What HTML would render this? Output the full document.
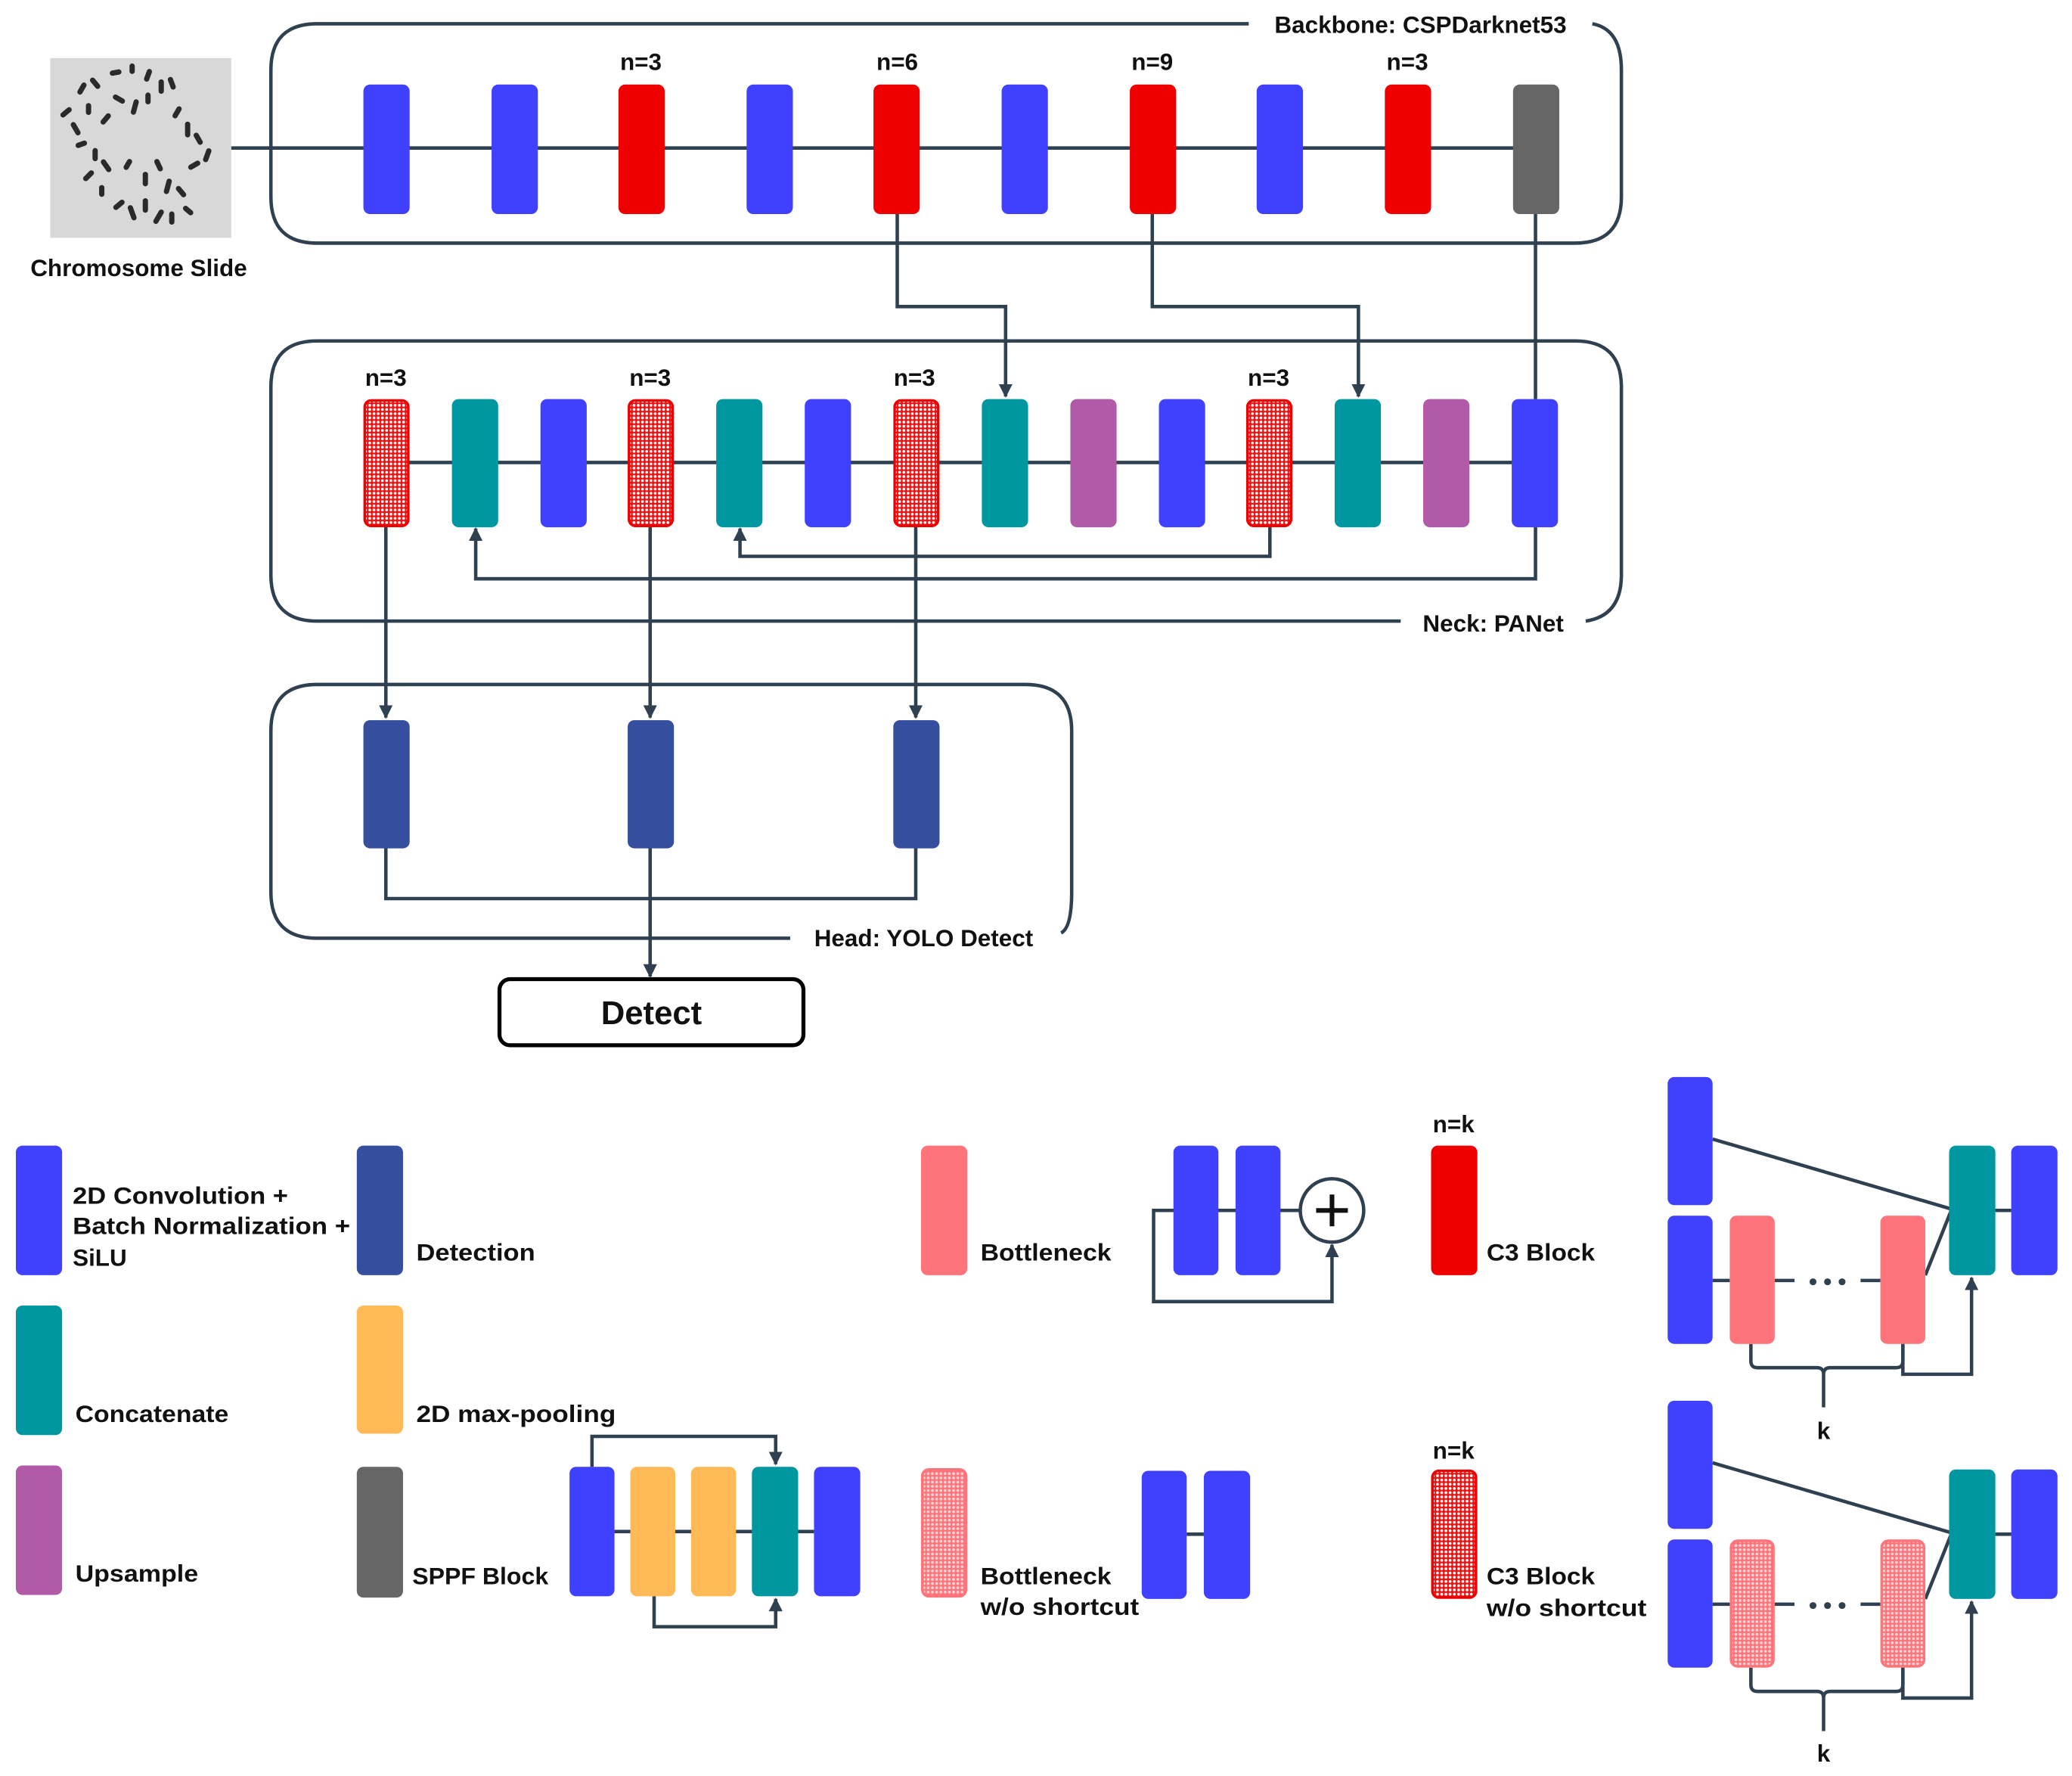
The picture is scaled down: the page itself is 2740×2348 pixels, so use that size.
<!DOCTYPE html>
<html><head><meta charset="utf-8"><style>
html,body{margin:0;padding:0;background:#fff;}
svg{display:block;}
text{font-family:"Liberation Sans",sans-serif;font-weight:bold;fill:#111;}
</style></head><body>
<svg width="2740" height="2348" viewBox="0 0 1568 1344" preserveAspectRatio="none" xmlns="http://www.w3.org/2000/svg">
<defs>
<pattern id="dots" width="3.2" height="3.2" patternUnits="userSpaceOnUse">
<rect width="3.2" height="3.2" fill="#ee1111"/>
<circle cx="1.6" cy="1.6" r="1.05" fill="#fff"/>
</pattern>
<pattern id="sdots" width="3.2" height="3.2" patternUnits="userSpaceOnUse">
<rect width="3.2" height="3.2" fill="#ff737a"/>
<circle cx="1.6" cy="1.6" r="1.05" fill="#ffd6d8"/>
</pattern>
<marker id="ar" viewBox="0 0 10 10" refX="9" refY="5" markerWidth="4" markerHeight="4" orient="auto-start-reverse">
<path d="M0,0 L10,5 L0,10 z" fill="#2f4050"/>
</marker>
<symbol id="hred" viewBox="0 0 35 98" preserveAspectRatio="none">
<rect x="1" y="1" width="33" height="96" rx="5" fill="url(#dots)" stroke="#ee0000" stroke-width="2"/>
</symbol>
</defs>
<g stroke="#2f4050" stroke-width="2.6" fill="none">
<path d="M945,18 H240 Q205,18 205,53 V149 Q205,184 240,184 H1192 Q1227,184 1227,149 V53 Q1227,22 1205,18"/>
<line x1="175" y1="112" x2="1162" y2="112"/>
<path d="M1060,470 H240 Q205,470 205,435 V293 Q205,258 240,258 H1192 Q1227,258 1227,293 V435 Q1227,466 1200,470"/>
<line x1="292" y1="350" x2="1162" y2="350"/>
<path d="M598,710 H240 Q205,710 205,675 V553 Q205,518 240,518 H776 Q811,518 811,553 V675 Q811,702 803,706"/>
<path d="M679,162 V232 H761 V300" marker-end="url(#ar)"/>
<path d="M872,162 V232 H1028 V300" marker-end="url(#ar)"/>
<path d="M1162,162 V302"/>
<path d="M1162,398 V438 H360 V400" marker-end="url(#ar)"/>
<path d="M961,398 V421 H560 V400" marker-end="url(#ar)"/>
<path d="M292,398 V543" marker-end="url(#ar)"/>
<path d="M492,398 V543" marker-end="url(#ar)"/>
<path d="M693,398 V543" marker-end="url(#ar)"/>
<path d="M292,641 V680 H693 V641"/>
<path d="M492,641 V739" marker-end="url(#ar)"/>
<line x1="465" y1="1159" x2="616" y2="1159"/>
<path d="M448,1110 V1087 H587 V1108" marker-end="url(#ar)"/>
<path d="M495,1208 V1231 H587 V1210" marker-end="url(#ar)"/>
<line x1="873" y1="916" x2="984" y2="916"/>
<path d="M888,916 H873 V985 H1008 V942" marker-end="url(#ar)"/>
<line x1="898" y1="1161" x2="911" y2="1161"/>
</g>
<rect x="38" y="44" width="137" height="136" fill="#d8d8d8"/>
<g fill="#2a2a2a">
<rect x="60" y="62" width="4" height="10" rx="2" transform="rotate(30 62 67)"/><rect x="70" y="58" width="4" height="10" rx="2" transform="rotate(-40 72 63)"/><rect x="85" y="50" width="4" height="9" rx="2" transform="rotate(80 87 55)"/><rect x="98" y="48" width="4" height="8" rx="2"/><rect x="110" y="52" width="4" height="10" rx="2" transform="rotate(20 112 57)"/><rect x="120" y="60" width="4" height="11" rx="2"/><rect x="128" y="58" width="4" height="10" rx="2" transform="rotate(-20 130 63)"/>
<rect x="48" y="80" width="4" height="10" rx="2" transform="rotate(50 50 85)"/><rect x="55" y="92" width="4" height="11" rx="2" transform="rotate(-30 57 97)"/><rect x="65" y="78" width="4" height="9" rx="2"/><rect x="78" y="85" width="4" height="10" rx="2" transform="rotate(40 80 90)"/><rect x="88" y="70" width="4" height="10" rx="2" transform="rotate(-60 90 75)"/><rect x="100" y="75" width="4" height="12" rx="2" transform="rotate(15 102 81)"/><rect x="110" y="70" width="4" height="9" rx="2"/>
<rect x="132" y="80" width="4" height="10" rx="2" transform="rotate(30 134 85)"/><rect x="140" y="92" width="4" height="12" rx="2"/><rect x="148" y="100" width="4" height="10" rx="2" transform="rotate(-30 150 105)"/><rect x="155" y="112" width="4" height="11" rx="2" transform="rotate(20 157 117)"/><rect x="145" y="120" width="4" height="10" rx="2" transform="rotate(60 147 125)"/>
<rect x="60" y="105" width="4" height="9" rx="2" transform="rotate(70 62 109)"/><rect x="70" y="112" width="4" height="10" rx="2"/><rect x="78" y="120" width="4" height="11" rx="2" transform="rotate(-35 80 125)"/><rect x="65" y="128" width="4" height="10" rx="2" transform="rotate(45 67 133)"/><rect x="75" y="140" width="4" height="9" rx="2"/>
<rect x="95" y="120" width="4" height="9" rx="2" transform="rotate(30 97 124)"/><rect x="108" y="130" width="4" height="11" rx="2"/><rect x="118" y="120" width="4" height="10" rx="2" transform="rotate(-25 120 125)"/><rect x="125" y="135" width="4" height="12" rx="2" transform="rotate(15 127 141)"/><rect x="135" y="140" width="4" height="10" rx="2" transform="rotate(-40 137 145)"/>
<rect x="88" y="150" width="4" height="10" rx="2" transform="rotate(50 90 155)"/><rect x="98" y="155" width="4" height="12" rx="2" transform="rotate(-20 100 161)"/><rect x="108" y="150" width="4" height="11" rx="2"/><rect x="118" y="158" width="4" height="12" rx="2" transform="rotate(30 120 164)"/><rect x="128" y="160" width="4" height="10" rx="2"/><rect x="140" y="155" width="4" height="9" rx="2" transform="rotate(-50 142 159)"/>
</g>
<g>
<rect x="275" y="64" width="35" height="98" rx="5" fill="#4040ff"/>
<rect x="372" y="64" width="35" height="98" rx="5" fill="#4040ff"/>
<rect x="468" y="64" width="35" height="98" rx="5" fill="#ee0000"/>
<rect x="565" y="64" width="35" height="98" rx="5" fill="#4040ff"/>
<rect x="661" y="64" width="35" height="98" rx="5" fill="#ee0000"/>
<rect x="758" y="64" width="35" height="98" rx="5" fill="#4040ff"/>
<rect x="855" y="64" width="35" height="98" rx="5" fill="#ee0000"/>
<rect x="951" y="64" width="35" height="98" rx="5" fill="#4040ff"/>
<rect x="1048" y="64" width="35" height="98" rx="5" fill="#ee0000"/>
<rect x="1145" y="64" width="35" height="98" rx="5" fill="#666"/>
</g>
<g>
<use href="#hred" x="275" y="302" width="35" height="97"/>
<rect x="342" y="302" width="35" height="97" rx="5" fill="#0097a0"/>
<rect x="409" y="302" width="35" height="97" rx="5" fill="#4040ff"/>
<use href="#hred" x="475" y="302" width="35" height="97"/>
<rect x="542" y="302" width="35" height="97" rx="5" fill="#0097a0"/>
<rect x="609" y="302" width="35" height="97" rx="5" fill="#4040ff"/>
<use href="#hred" x="676" y="302" width="35" height="97"/>
<rect x="743" y="302" width="35" height="97" rx="5" fill="#0097a0"/>
<rect x="810" y="302" width="35" height="97" rx="5" fill="#b05aa8"/>
<rect x="877" y="302" width="35" height="97" rx="5" fill="#4040ff"/>
<use href="#hred" x="943" y="302" width="35" height="97"/>
<rect x="1010" y="302" width="35" height="97" rx="5" fill="#0097a0"/>
<rect x="1077" y="302" width="35" height="97" rx="5" fill="#b05aa8"/>
<rect x="1144" y="302" width="35" height="97" rx="5" fill="#4040ff"/>
</g>
<rect x="275" y="545" width="35" height="97" rx="5" fill="#354f9e"/>
<rect x="475" y="545" width="35" height="97" rx="5" fill="#354f9e"/>
<rect x="676" y="545" width="35" height="97" rx="5" fill="#354f9e"/>
<rect x="378" y="741" width="230" height="50" rx="8" fill="#fff" stroke="#000" stroke-width="3"/>
<text x="493" y="775" font-size="25" text-anchor="middle">Detect</text>
<g font-size="18">
<text x="1075" y="25" text-anchor="middle" font-size="18">Backbone: CSPDarknet53</text>
<text x="1130" y="478" text-anchor="middle">Neck: PANet</text>
<text x="699" y="716" text-anchor="middle">Head: YOLO Detect</text>
<text x="105" y="209" text-anchor="middle">Chromosome Slide</text>
<text x="485" y="53" text-anchor="middle">n=3</text>
<text x="679" y="53" text-anchor="middle">n=6</text>
<text x="872" y="53" text-anchor="middle">n=9</text>
<text x="1065" y="53" text-anchor="middle">n=3</text>
<text x="292" y="292" text-anchor="middle">n=3</text>
<text x="492" y="292" text-anchor="middle">n=3</text>
<text x="692" y="292" text-anchor="middle">n=3</text>
<text x="960" y="292" text-anchor="middle">n=3</text>
</g>
<rect x="12" y="867" width="35" height="98" rx="5" fill="#4040ff"/>
<rect x="270" y="867" width="35" height="98" rx="5" fill="#354f9e"/>
<rect x="12" y="988" width="35" height="98" rx="5" fill="#0097a0"/>
<rect x="270" y="988" width="35" height="97" rx="5" fill="#ffb957"/>
<rect x="12" y="1109" width="35" height="98" rx="5" fill="#b05aa8"/>
<rect x="270" y="1110" width="35" height="99" rx="5" fill="#666"/>
<g font-size="18">
<text x="55" y="911" textLength="163" lengthAdjust="spacingAndGlyphs">2D Convolution +</text>
<text x="55" y="934" textLength="210" lengthAdjust="spacingAndGlyphs">Batch Normalization +</text>
<text x="55" y="958">SiLU</text>
<text x="315" y="954" textLength="90" lengthAdjust="spacingAndGlyphs">Detection</text>
<text x="57" y="1076" textLength="116" lengthAdjust="spacingAndGlyphs">Concatenate</text>
<text x="315" y="1076" textLength="151" lengthAdjust="spacingAndGlyphs">2D max-pooling</text>
<text x="57" y="1197" textLength="93" lengthAdjust="spacingAndGlyphs">Upsample</text>
<text x="312" y="1199" textLength="103" lengthAdjust="spacingAndGlyphs">SPPF Block</text>
<text x="742" y="954" textLength="99" lengthAdjust="spacingAndGlyphs">Bottleneck</text>
<text x="742" y="1199" textLength="99" lengthAdjust="spacingAndGlyphs">Bottleneck</text>
<text x="742" y="1222" textLength="120" lengthAdjust="spacingAndGlyphs">w/o shortcut</text>
<text x="1125" y="954" textLength="82" lengthAdjust="spacingAndGlyphs">C3 Block</text>
<text x="1125" y="1199" textLength="82" lengthAdjust="spacingAndGlyphs">C3 Block</text>
<text x="1125" y="1223" textLength="121" lengthAdjust="spacingAndGlyphs">w/o shortcut</text>
<text x="1100" y="857" text-anchor="middle">n=k</text>
<text x="1100" y="1104" text-anchor="middle">n=k</text>
<text x="1380" y="1089" text-anchor="middle">k</text>
<text x="1380" y="1333" text-anchor="middle">k</text>
</g>
<rect x="431" y="1110" width="34" height="98" rx="5" fill="#4040ff"/>
<rect x="477" y="1110" width="34" height="98" rx="5" fill="#ffb957"/>
<rect x="523" y="1110" width="34" height="98" rx="5" fill="#ffb957"/>
<rect x="569" y="1110" width="35" height="98" rx="5" fill="#0097a0"/>
<rect x="616" y="1110" width="35" height="98" rx="5" fill="#4040ff"/>
<rect x="697" y="867" width="35" height="98" rx="5" fill="#ff737a"/>
<rect x="888" y="867" width="34" height="98" rx="5" fill="#4040ff"/>
<rect x="935" y="867" width="34" height="98" rx="5" fill="#4040ff"/>
<circle cx="1008" cy="916" r="24" fill="#fff" stroke="#2f4050" stroke-width="2.6"/>
<path d="M996,916 H1020 M1008,904 V928" stroke="#111" stroke-width="3.5"/>
<rect x="698" y="1112" width="33" height="96" rx="5" fill="url(#sdots)" stroke="#ff737a" stroke-width="2"/>
<rect x="864" y="1113" width="34" height="97" rx="5" fill="#4040ff"/>
<rect x="911" y="1113" width="35" height="97" rx="5" fill="#4040ff"/>
<rect x="1083" y="867" width="35" height="98" rx="5" fill="#ee0000"/>
<use href="#hred" x="1083" y="1112" width="35" height="98"/>
<g id="c3a">
<g stroke="#2f4050" stroke-width="2.6" fill="none">
<line x1="1296" y1="862" x2="1477" y2="915"/>
<line x1="1457" y1="965" x2="1477" y2="915"/>
<line x1="1296" y1="969" x2="1309" y2="969"/>
<line x1="1343" y1="969" x2="1358" y2="969"/>
<line x1="1408" y1="969" x2="1423" y2="969"/>
<line x1="1510" y1="916" x2="1522" y2="916"/>
<path d="M1325,1017 V1030 Q1325,1035 1330,1035 H1375 Q1380,1035 1380,1040 V1065 M1380,1040 Q1380,1035 1385,1035 H1435 Q1440,1035 1440,1030 V1017"/>
<path d="M1440,1017 V1040 H1492 V967" marker-end="url(#ar)"/>
</g>
<rect x="1262" y="815" width="34" height="97" rx="5" fill="#4040ff"/>
<rect x="1262" y="920" width="34" height="97" rx="5" fill="#4040ff"/>
<rect x="1475" y="867" width="35" height="98" rx="5" fill="#0097a0"/>
<rect x="1522" y="867" width="35" height="98" rx="5" fill="#4040ff"/>
<circle cx="1372" cy="970" r="2.6" fill="#2f4050"/><circle cx="1383" cy="970" r="2.6" fill="#2f4050"/><circle cx="1394" cy="970" r="2.6" fill="#2f4050"/>
</g>
<rect x="1309" y="920" width="34" height="97" rx="5" fill="#ff737a"/>
<rect x="1423" y="920" width="34" height="97" rx="5" fill="#ff737a"/>
<use href="#c3a" x="0" y="245"/>
<rect x="1310" y="1166" width="32" height="95" rx="5" fill="url(#sdots)" stroke="#ff737a" stroke-width="2"/>
<rect x="1424" y="1166" width="32" height="95" rx="5" fill="url(#sdots)" stroke="#ff737a" stroke-width="2"/>
</svg>
</body></html>
